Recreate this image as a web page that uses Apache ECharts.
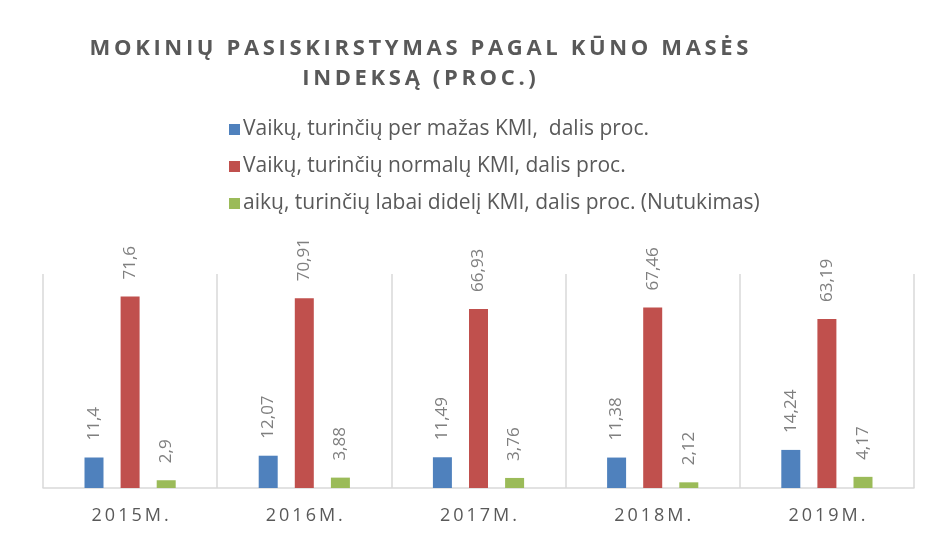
<!DOCTYPE html>
<html>
<head>
<meta charset="utf-8">
<script src="https://cdn.jsdelivr.net/npm/echarts@6/dist/echarts.min.js"></script>
<style>
  html, body { margin: 0; padding: 0; background: #fff; }
  #chart { width: 931px; height: 539px; }
</style>
</head>
<body>
<div id="chart"></div>
<script>
var titleLines = ["MOKINIŲ PASISKIRSTYMAS PAGAL KŪNO MASĖS", "INDEKSĄ (PROC.)"];
var years = ["2015M.", "2016M.", "2017M.", "2018M.", "2019M."];
var seriesNames = [
  "Vaikų, turinčių per mažas KMI,  dalis proc.",
  "Vaikų, turinčių normalų KMI, dalis proc.",
  "aikų, turinčių labai didelį KMI, dalis proc. (Nutukimas)"
];
var underweight = [11.4, 12.07, 11.49, 11.38, 14.24];
var normal = [71.6, 70.91, 66.93, 67.46, 63.19];
var obese = [2.9, 3.88, 3.76, 2.12, 4.17];
var colors = ["#4f81bd", "#c0504d", "#9bbb59"];

// spread letters out (thin spaces), like the original
function spaced(s, sp) {
  return s.split("").join(sp || "\u2009");
}

var chart = echarts.init(document.getElementById("chart"));

function barSeries(name, data, color) {
  return {
    name: name,
    type: "bar",
    data: data,
    barWidth: 19,
    barGap: "90%",
    itemStyle: { color: color },
    label: {
      show: true,
      position: "top",
      rotate: 90,
      align: "left",
      verticalAlign: "middle",
      distance: 17,
      color: "#7f7f7f",
      fontSize: 17,
      fontFamily: "Open Sans",
      formatter: function (p) { return String(p.value).replace(".", ","); }
    }
  };
}

var option = {
  animation: false,
  color: colors,
  title: {
    text: spaced(titleLines[0]) + "\n" + spaced(titleLines[1]),
    left: 414,
    top: 29,
    textAlign: "center",
    textStyle: {
      color: "#595959",
      fontSize: 22,
      fontWeight: "bold",
      fontFamily: "Open Sans",
      lineHeight: 30
    }
  },
  legend: {
    orient: "vertical",
    left: 224,
    top: 113,
    itemWidth: 11,
    itemHeight: 11,
    itemGap: 14,
    icon: "rect",
    textStyle: { color: "#595959", fontSize: 21, lineHeight: 23, fontFamily: "Open Sans", padding: [0, 0, 0, -2] },
    data: seriesNames
  },
  grid: { left: 43, right: 17, top: 274, bottom: 51 },
  xAxis: {
    type: "category",
    data: years,
    axisTick: { show: false },
    axisLine: { lineStyle: { color: "#d9d9d9", width: 1.5 } },
    splitLine: { show: true, lineStyle: { color: "#d9d9d9", width: 1.5 } },
    axisLabel: {
      color: "#595959",
      fontSize: 18,
      fontFamily: "Open Sans",
      margin: 19,
      formatter: function (v) { return spaced(v, "\u2009"); }
    }
  },
  yAxis: { type: "value", min: 0, max: 80, show: false },
  series: [
    barSeries(seriesNames[0], underweight, colors[0]),
    barSeries(seriesNames[1], normal, colors[1]),
    barSeries(seriesNames[2], obese, colors[2])
  ]
};

chart.setOption(option);
</script>
</body>
</html>
